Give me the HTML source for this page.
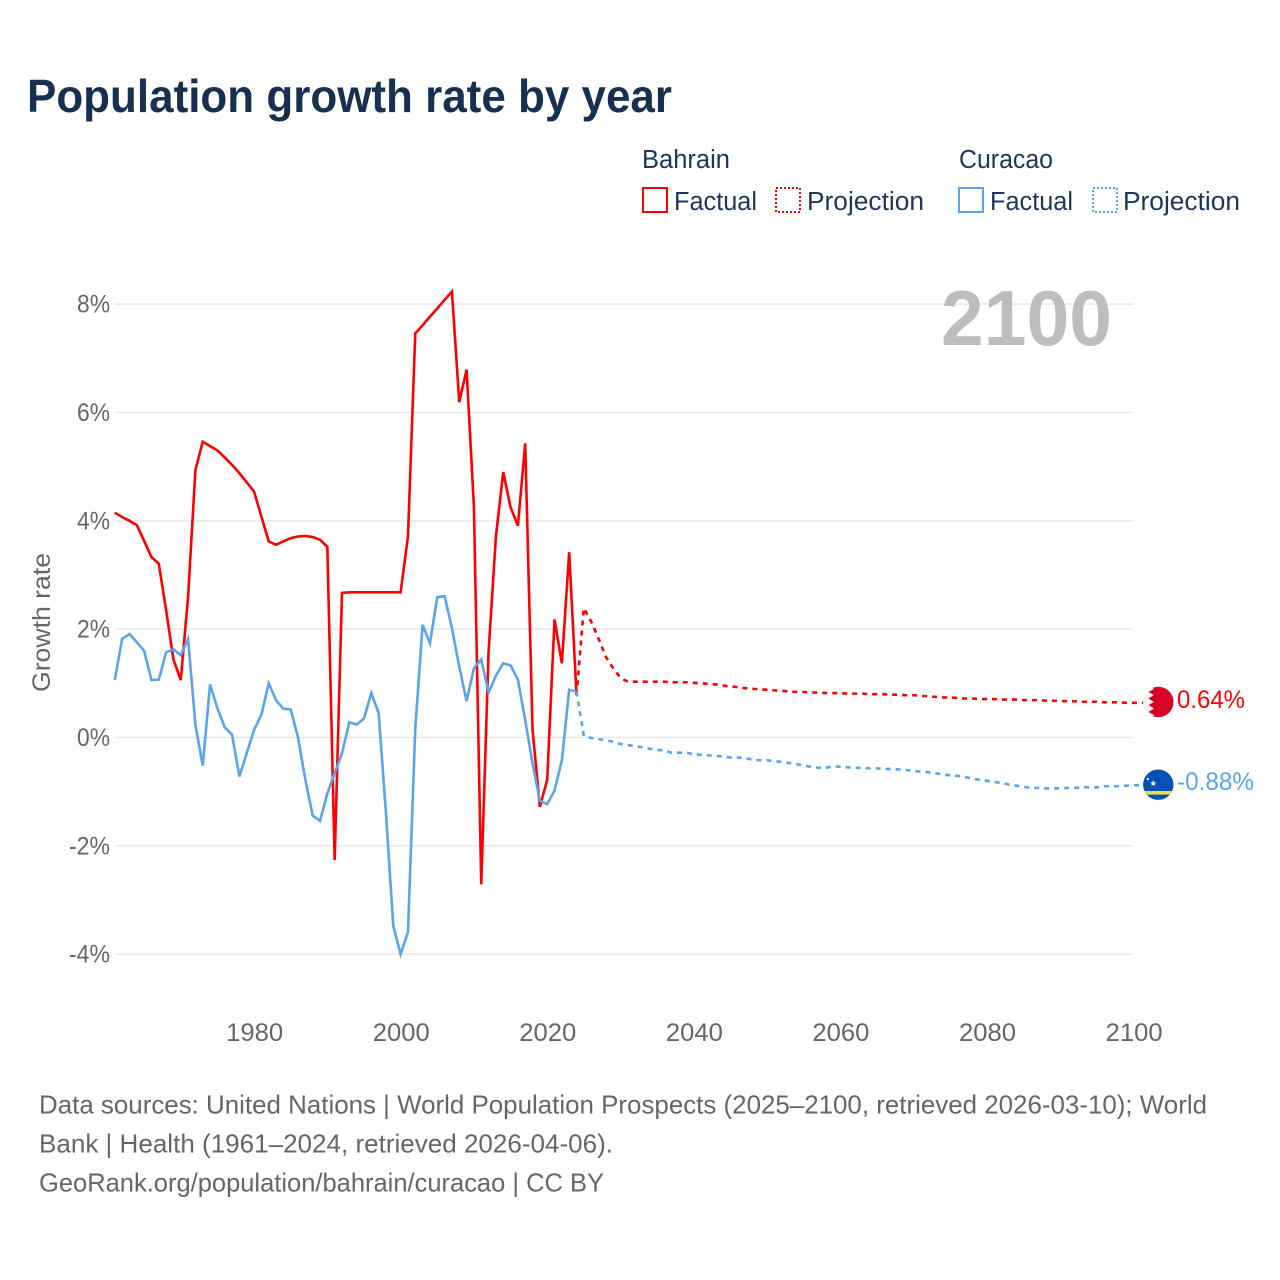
<!DOCTYPE html>
<html lang="en">
<head>
<meta charset="utf-8">
<title>Population growth rate by year</title>
<style>
html,body{margin:0;padding:0;background:#fff;}
svg{display:block;font-family:"Liberation Sans",sans-serif;}
</style>
</head>
<body>
<svg id="chart" width="1280" height="1280" viewBox="0 0 1280 1280" xmlns="http://www.w3.org/2000/svg">
  <rect x="0" y="0" width="1280" height="1280" fill="#fff"/>
  <text x="27" y="112" font-size="46" font-weight="700" fill="#18304f" textLength="645" lengthAdjust="spacingAndGlyphs">Population growth rate by year</text>

  <g fill="#1d3557" font-size="25.5">
    <text x="642" y="168" textLength="88" lengthAdjust="spacingAndGlyphs">Bahrain</text>
    <text x="959" y="168" textLength="94" lengthAdjust="spacingAndGlyphs">Curacao</text>
    <g>
      <rect x="643" y="188" width="24" height="24" fill="none" stroke="#ff0000" stroke-width="2"/>
      <text x="674" y="210" textLength="83" lengthAdjust="spacingAndGlyphs">Factual</text>
    </g>
    <g>
      <rect x="776" y="188" width="24" height="24" fill="none" stroke="#ff0000" stroke-width="2" stroke-dasharray="2 2"/>
      <text x="807" y="210" textLength="117" lengthAdjust="spacingAndGlyphs">Projection</text>
    </g>
    <g>
      <rect x="959" y="188" width="24" height="24" fill="none" stroke="#5ba4ec" stroke-width="2"/>
      <text x="990" y="210" textLength="83" lengthAdjust="spacingAndGlyphs">Factual</text>
    </g>
    <g>
      <rect x="1093" y="188" width="24" height="24" fill="none" stroke="#5ba4ec" stroke-width="2" stroke-dasharray="2 2"/>
      <text x="1123" y="210" textLength="117" lengthAdjust="spacingAndGlyphs">Projection</text>
    </g>
  </g>

  <g id="grid"></g>
  <g id="yticks"></g>
  <g id="xticks"></g>

  <text transform="translate(50,622.5) rotate(-90)" text-anchor="middle" font-size="25" fill="#666" textLength="139" lengthAdjust="spacingAndGlyphs">Growth rate</text>
  <text x="941" y="345" font-size="78" font-weight="700" fill="#bdbdbd" textLength="171" lengthAdjust="spacingAndGlyphs">2100</text>

  <g id="series"></g>

  <g>
    <clipPath id="clip-bh"><circle cx="1158.3" cy="702" r="15.2"/></clipPath>
    <g clip-path="url(#clip-bh)">
      <rect x="1143" y="686" width="31" height="32" fill="#f0f0f0"/>
      <polygon points="1151,686 1174,686 1174,718 1151,718 1154,715 1148.5,712 1154,708.5 1148.5,705 1154,702 1148.5,698.5 1154,695 1148.5,692 1154,689" fill="#d80027"/>
    </g>
  </g>
  <g>
    <clipPath id="clip-cw"><circle cx="1158.3" cy="784.7" r="15.2"/></clipPath>
    <g clip-path="url(#clip-cw)">
      <rect x="1143" y="769" width="31" height="32" fill="#0052b4"/>
      <rect x="1143" y="791" width="31" height="3.6" fill="#ffda44"/>
      <circle cx="1147.8" cy="779" r="1.2" fill="#f0f0f0"/>
      <polygon points="1153.3,780 1154.2,782.2 1156.4,782.4 1154.8,783.8 1155.2,786 1153.3,784.9 1151.4,786 1151.8,783.8 1150.2,782.4 1152.4,782.2" fill="#f0f0f0"/>
    </g>
  </g>
  <text x="1177" y="708" font-size="25" fill="#ff0000" textLength="68" lengthAdjust="spacingAndGlyphs">0.64%</text>
  <text x="1177" y="790" font-size="25" fill="#5ba4ec" textLength="77" lengthAdjust="spacingAndGlyphs">-0.88%</text>

  <g font-size="26" fill="#666">
    <text x="39" y="1113.5" textLength="1168" lengthAdjust="spacingAndGlyphs">Data sources: United Nations | World Population Prospects (2025–2100, retrieved 2026-03-10); World</text>
    <text x="39" y="1152.5" textLength="574" lengthAdjust="spacingAndGlyphs">Bank | Health (1961–2024, retrieved 2026-04-06).</text>
    <text x="39" y="1191.5" textLength="565" lengthAdjust="spacingAndGlyphs">GeoRank.org/population/bahrain/curacao | CC BY</text>
  </g>
</svg>
<script>
const factualStartYear = 1961;
const projectionStartYear = 2024;
const yTickValues = [8, 6, 4, 2, 0, -2, -4];
const xTickYears = [1980, 2000, 2020, 2040, 2060, 2080, 2100];
const bahrainFactual = [
  4.15,4.07,4.00,3.92,3.63,3.33,3.21,2.35,1.44,1.06,
  2.60,4.94,5.46,5.38,5.30,5.17,5.03,4.88,4.71,4.54,
  4.08,3.62,3.56,3.62,3.68,3.71,3.72,3.70,3.65,3.52,
  -2.26,2.67,2.68,2.68,2.68,2.68,2.68,2.68,2.68,2.68,
  3.71,7.46,7.61,7.77,7.92,8.08,8.23,6.19,6.79,4.26,
  -2.71,1.58,3.71,4.90,4.25,3.91,5.43,0.14,-1.28,-0.78,
  2.18,1.37,3.42,0.78
];
const curacaoFactual = [
  1.06,1.82,1.91,1.76,1.60,1.06,1.07,1.57,1.63,1.52,
  1.82,0.23,-0.52,0.98,0.54,0.19,0.05,-0.72,-0.29,0.14,
  0.42,1.00,0.69,0.53,0.52,0.00,-0.78,-1.44,-1.54,-1.03,
  -0.66,-0.29,0.28,0.24,0.35,0.82,0.45,-1.40,-3.48,-4.00,
  -3.59,0.17,2.08,1.74,2.59,2.61,2.02,1.31,0.67,1.28,
  1.44,0.83,1.14,1.37,1.33,1.07,0.32,-0.48,-1.17,-1.23,
  -0.98,-0.42,0.88,0.85
];
const bahrainProjection = [
  0.78,
  2.39,2.14,1.83,1.49,1.28,1.10,1.03,1.03,1.03,1.03,
  1.03,1.03,1.02,1.02,1.02,1.01,1.00,0.99,0.98,0.96,
  0.94,0.93,0.91,0.90,0.89,0.88,0.87,0.86,0.85,0.84,
  0.84,0.83,0.83,0.82,0.82,0.82,0.81,0.81,0.81,0.80,
  0.80,0.80,0.79,0.79,0.78,0.78,0.77,0.76,0.75,0.74,
  0.74,0.73,0.72,0.72,0.71,0.71,0.71,0.70,0.70,0.70,
  0.69,0.69,0.69,0.68,0.68,0.67,0.67,0.67,0.66,0.66,
  0.66,0.65,0.65,0.65,0.64,0.64
];
const curacaoProjection = [
  0.85,
  0.03,-0.01,-0.03,-0.05,-0.08,-0.12,-0.14,-0.16,-0.18,-0.21,
  -0.23,-0.24,-0.28,-0.28,-0.28,-0.31,-0.32,-0.33,-0.34,-0.35,
  -0.37,-0.37,-0.38,-0.41,-0.42,-0.42,-0.44,-0.45,-0.47,-0.49,
  -0.52,-0.54,-0.56,-0.56,-0.53,-0.54,-0.55,-0.56,-0.56,-0.57,
  -0.57,-0.58,-0.58,-0.59,-0.60,-0.62,-0.63,-0.64,-0.66,-0.68,
  -0.70,-0.71,-0.73,-0.76,-0.78,-0.80,-0.82,-0.84,-0.87,-0.89,
  -0.91,-0.93,-0.93,-0.94,-0.94,-0.94,-0.93,-0.93,-0.92,-0.92,
  -0.92,-0.90,-0.90,-0.90,-0.89,-0.88
];

const NS = 'http://www.w3.org/2000/svg';
function xScale(year) { return 114.8 + (year - 1961) * (1133.5 - 114.8) / (2100 - 1961); }
function yScale(v) { return 737.5 - v * 54.17; }
const leaderEndX = 1143;
const tickLabelNudge = 0.6;

function pathFrom(values, startYear, extendToX) {
  let d = '';
  values.forEach(function (v, i) {
    d += (i ? 'L' : 'M') + xScale(startYear + i).toFixed(2) + ' ' + yScale(v).toFixed(2);
  });
  if (extendToX) {
    d += 'L' + extendToX + ' ' + yScale(values[values.length - 1]).toFixed(2);
  }
  return d;
}

const grid = document.getElementById('grid');
const yticks = document.getElementById('yticks');
yTickValues.forEach(function (v) {
  const line = document.createElementNS(NS, 'line');
  
  
  line.setAttribute('x1', 115);
  line.setAttribute('x2', 1133);
  line.setAttribute('y1', yScale(v));
  line.setAttribute('y2', yScale(v));
  line.setAttribute('stroke', '#e8e8e8');
  line.setAttribute('stroke-width', '1.5');
  grid.appendChild(line);

  const label = document.createElementNS(NS, 'text');
  
  
  label.setAttribute('x', 110);
  label.setAttribute('y', yScale(v) + 8.5);
  label.setAttribute('text-anchor', 'end');
  label.setAttribute('font-size', '25');
  label.setAttribute('fill', '#666');
  label.setAttribute('textLength', v < 0 ? 41 : 33);
  label.setAttribute('lengthAdjust', 'spacingAndGlyphs');
  label.textContent = v + '%';
  yticks.appendChild(label);
});

const xticks = document.getElementById('xticks');
xTickYears.forEach(function (yr) {
  const label = document.createElementNS(NS, 'text');
  
  
  label.setAttribute('x', xScale(yr) + tickLabelNudge);
  label.setAttribute('y', 1041);
  label.setAttribute('text-anchor', 'middle');
  label.setAttribute('font-size', '25');
  label.setAttribute('fill', '#666');
  label.setAttribute('textLength', 57);
  label.setAttribute('lengthAdjust', 'spacingAndGlyphs');
  label.textContent = yr;
  xticks.appendChild(label);
});

const series = document.getElementById('series');

const curacaoFactualLine = document.createElementNS(NS, 'path');


curacaoFactualLine.setAttribute('d', pathFrom(curacaoFactual, factualStartYear));
curacaoFactualLine.setAttribute('fill', 'none');
curacaoFactualLine.setAttribute('stroke', '#5ba4ec');
curacaoFactualLine.setAttribute('stroke-width', '2.6');
curacaoFactualLine.setAttribute('stroke-linejoin', 'miter');

const bahrainFactualLine = document.createElementNS(NS, 'path');


bahrainFactualLine.setAttribute('d', pathFrom(bahrainFactual, factualStartYear));
bahrainFactualLine.setAttribute('fill', 'none');
bahrainFactualLine.setAttribute('stroke', '#ff0000');
bahrainFactualLine.setAttribute('stroke-width', '2.6');
bahrainFactualLine.setAttribute('stroke-linejoin', 'miter');

const bahrainProjectionLine = document.createElementNS(NS, 'path');


bahrainProjectionLine.setAttribute('d', pathFrom(bahrainProjection, projectionStartYear, leaderEndX));
bahrainProjectionLine.setAttribute('fill', 'none');
bahrainProjectionLine.setAttribute('stroke', '#ff0000');
bahrainProjectionLine.setAttribute('stroke-width', '2.6');
bahrainProjectionLine.setAttribute('stroke-dasharray', '5 5');

const curacaoProjectionLine = document.createElementNS(NS, 'path');


curacaoProjectionLine.setAttribute('d', pathFrom(curacaoProjection, projectionStartYear, leaderEndX));
curacaoProjectionLine.setAttribute('fill', 'none');
curacaoProjectionLine.setAttribute('stroke', '#5ba4ec');
curacaoProjectionLine.setAttribute('stroke-width', '2.6');
curacaoProjectionLine.setAttribute('stroke-dasharray', '5 5');

series.appendChild(bahrainFactualLine);
series.appendChild(bahrainProjectionLine);
series.appendChild(curacaoFactualLine);
series.appendChild(curacaoProjectionLine);
</script>
</body>
</html>
